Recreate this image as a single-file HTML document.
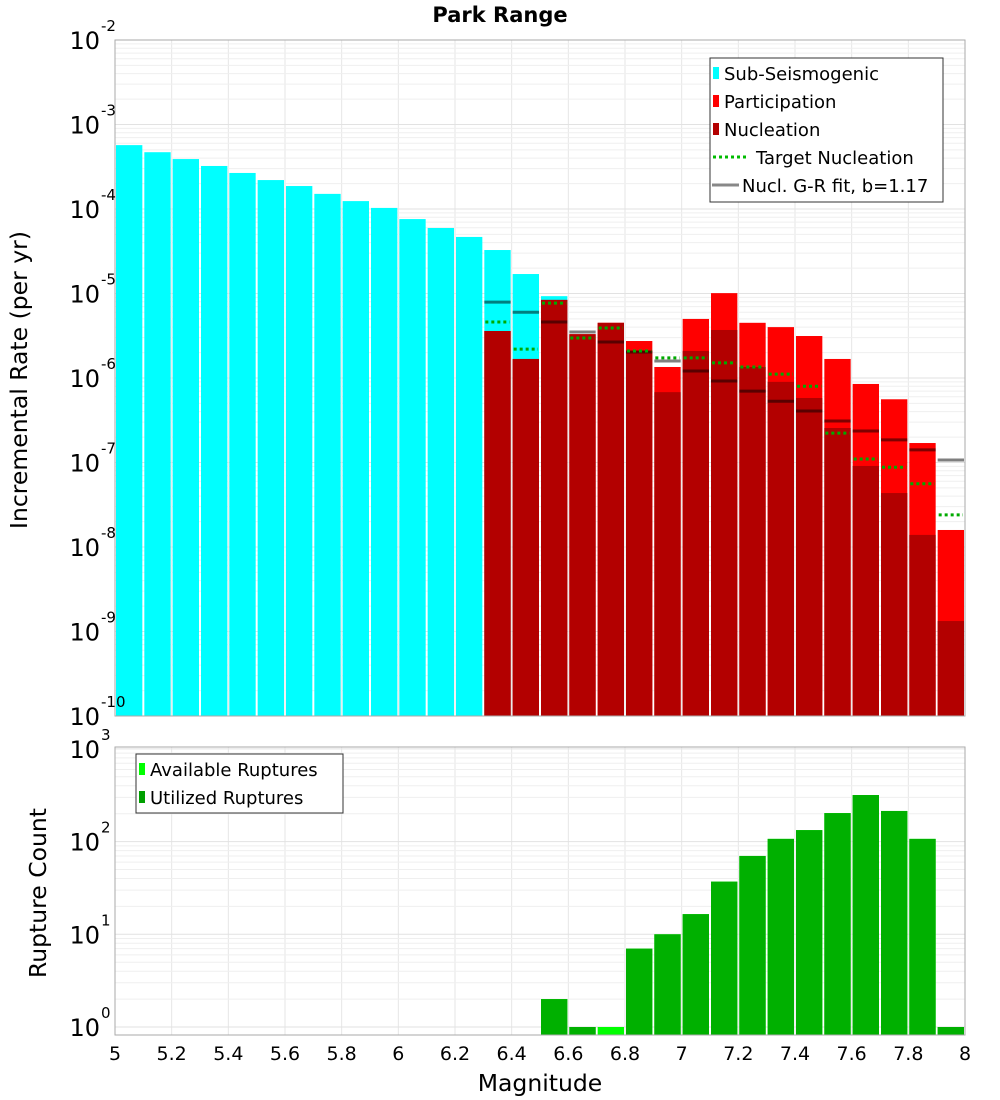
<!DOCTYPE html>
<html><head><meta charset="utf-8">
<style>
body{margin:0;background:#fff;}
svg{display:block;font-family:"DejaVu Sans","Liberation Sans",sans-serif;}
</style></head>
<body>
<svg id="chart" width="1000" height="1100" viewBox="0 0 1000 1100">
<text x="500" y="22" text-anchor="middle" font-size="21" font-weight="bold">Park Range</text>
<g id="topplot"></g>
<g id="botplot"></g>
<text transform="translate(27,380) rotate(-90)" text-anchor="middle" font-size="23.5">Incremental Rate (per yr)</text>
<text transform="translate(46,893) rotate(-90)" text-anchor="middle" font-size="23.5">Rupture Count</text>
<text x="540" y="1091" text-anchor="middle" font-size="23.5">Magnitude</text>
</svg>
<script>
const mags=[5.05,5.15,5.25,5.35,5.45,5.55,5.65,5.75,5.85,5.95,6.05,6.15,6.25,6.35,6.45,6.55,6.65,6.75,6.85,6.95,7.05,7.15,7.25,7.35,7.45,7.55,7.65,7.75,7.85,7.95];
const subSeis=[5.7e-4,4.7e-4,3.9e-4,3.23e-4,2.67e-4,2.2e-4,1.87e-4,1.51e-4,1.24e-4,1.03e-4,7.6e-5,5.96e-5,4.67e-5,3.27e-5,1.7e-5,9.3e-6,0,0,0,0,0,0,0,0,0,0,0,0,0,0];
const participation=[0,0,0,0,0,0,0,0,0,0,0,0,0,3.6e-6,1.68e-6,8.4e-6,3.3e-6,4.5e-6,2.74e-6,1.35e-6,5.0e-6,1.01e-5,4.5e-6,4.0e-6,3.14e-6,1.68e-6,8.5e-7,5.6e-7,1.7e-7,1.59e-8];
const nucleation=[0,0,0,0,0,0,0,0,0,0,0,0,0,3.6e-6,1.68e-6,8.4e-6,3.3e-6,4.5e-6,2.1e-6,6.8e-7,2.09e-6,3.7e-6,1.35e-6,9.0e-7,5.8e-7,2.56e-7,9.1e-8,4.35e-8,1.39e-8,1.33e-9];
const targetNucl=[0,0,0,0,0,0,0,0,0,0,0,0,0,4.6e-6,2.2e-6,7.7e-6,2.97e-6,3.9e-6,2.09e-6,1.73e-6,1.73e-6,1.51e-6,1.35e-6,1.11e-6,8.0e-7,2.23e-7,1.1e-7,8.8e-8,5.6e-8,2.4e-8];
const grFit=[0,0,0,0,0,0,0,0,0,0,0,0,0,7.9e-6,6.0e-6,4.6e-6,3.5e-6,2.67e-6,2.03e-6,1.59e-6,1.21e-6,9.2e-7,7.0e-7,5.3e-7,4.07e-7,3.1e-7,2.36e-7,1.85e-7,1.41e-7,1.07e-7];
const available=[0,0,0,0,0,0,0,0,0,0,0,0,0,0,0,2,1,1,7,10,16.5,37,70,107,133,203,318,214,107,1];
const utilized=[0,0,0,0,0,0,0,0,0,0,0,0,0,0,0,2,1,0,7,10,16.5,37,70,107,133,203,318,214,107,1];
const xTicks=[5,5.2,5.4,5.6,5.8,6,6.2,6.4,6.6,6.8,7,7.2,7.4,7.6,7.8,8];
const rateExps=[-10,-9,-8,-7,-6,-5,-4,-3,-2];
const countExps=[0,1,2,3];

const NS="http://www.w3.org/2000/svg";
const L=115,R=965;
const X=m=>L+(m-5)*(R-L)/3;
const TT=40,TB=716;
const YT=v=>TT+(-2-Math.log10(v))*(TB-TT)/8;
const BT=747,BB=1035;
const YB=v=>1027-92.7*Math.log10(v);
function el(p,tag,a){const e=document.createElementNS(NS,tag);for(const k in a)e.setAttribute(k,a[k]);p.appendChild(e);return e;}
const topG=document.getElementById('topplot'),botG=document.getElementById('botplot');

function grid(g,y0,y1,exps,Y){
  el(g,'rect',{x:L,y:y0,width:R-L,height:y1-y0,fill:'#fff'});
  for(const t of xTicks){const l=el(g,'line',{x1:X(t),x2:X(t),y1:y0,y2:y1,stroke:'#e6e6e6','stroke-width':1});
    
    }
  for(let i=0;i<exps.length;i++){for(let k=1;k<10;k++){const y=Y(k*Math.pow(10,exps[i]));if(y<y0-0.5||y>y1+0.5)continue;
    const l=el(g,'line',{x1:L,x2:R,y1:y,y2:y,stroke:k==1?'#e2e2e2':'#efefef','stroke-width':1});
    
    }}
}
function border(g,y0,y1){const r=el(g,'rect',{x:L,y:y0,width:R-L,height:y1-y0,fill:'none',stroke:'#aaa','stroke-width':1});
  
  }
function yLabels(g,exps,Y){for(const e of exps){const y=Y(Math.pow(10,e));
  const t=el(g,'text',{x:100,y:y+9,'text-anchor':'end','font-size':24});t.textContent='10';
  
  
  const s=el(g,'text',{x:101,y:y-9,'font-size':15});s.textContent=String(e);
  
  }}
function bar(g,m,v,Y,yb,fill,name){if(!(v>0))return;const x0=X(m-0.05)+1,x1=X(m+0.05)-1;const y=Math.max(Y(v),0);
  const r=el(g,'rect',{x:x0,y:y,width:x1-x0,height:yb-y,fill:fill});
  
  }

grid(topG,TT,TB,rateExps,YT);
mags.forEach((m,i)=>bar(topG,m,subSeis[i],YT,TB,'#00ffff','sub-seismogenic-bar'));
mags.forEach((m,i)=>bar(topG,m,participation[i],YT,TB,'#ff0000','participation-bar'));
mags.forEach((m,i)=>bar(topG,m,nucleation[i],YT,TB,'#b30000','nucleation-bar'));
mags.forEach((m,i)=>{if(!(grFit[i]>0))return;const y=YT(grFit[i]);
  const l=el(topG,'line',{x1:X(m-0.05)+1,x2:X(m+0.05)-1,y1:y,y2:y,stroke:'rgba(0,0,0,0.5)','stroke-width':3});
  
  });
mags.forEach((m,i)=>{if(!(targetNucl[i]>0))return;const y=YT(targetNucl[i]);
  const l=el(topG,'line',{x1:X(m-0.05)+2,x2:X(m+0.05)-2,y1:y,y2:y,stroke:'#00aa00','stroke-width':3,'stroke-dasharray':'3 3'});
  
  });
border(topG,TT,TB);
yLabels(topG,rateExps,YT);

grid(botG,BT,BB,countExps,YB);
mags.forEach((m,i)=>bar(botG,m,available[i],YB,BB,'#00ff00','available-ruptures-bar'));
mags.forEach((m,i)=>bar(botG,m,utilized[i],YB,BB,'#00b000','utilized-ruptures-bar'));
border(botG,BT,BB);
yLabels(botG,countExps,YB);

for(const t of xTicks){const tx=el(botG,'text',{x:X(t),y:1060,'text-anchor':'middle','font-size':19});
  tx.textContent=String(t);
  
  }

function legend(g,x,y,w,h,items){const lg=el(g,'g',{});
  
  
  el(lg,'rect',{x:x,y:y,width:w,height:h,fill:'#fff',stroke:'#333','stroke-width':1});
  items.forEach((it,i)=>{const cy=y+15+i*28;const e=el(lg,'g',{});
    
    
    let tx=x+14;
    if(it.t=='box'){el(e,'rect',{x:x+3,y:cy-6,width:6,height:12,fill:it.c});}
    else if(it.t=='dot'){el(e,'line',{x1:x+3,x2:x+39,y1:cy,y2:cy,stroke:it.c,'stroke-width':3,'stroke-dasharray':'3 3'});tx=x+46;}
    else {el(e,'line',{x1:x+2,x2:x+29,y1:cy,y2:cy,stroke:it.c,'stroke-width':3});tx=x+32;}
    const t=el(e,'text',{x:tx,y:cy+7,'font-size':18});t.textContent=it.n;});}
legend(topG,710,58,233,144,[{t:'box',c:'#00ffff',n:'Sub-Seismogenic'},{t:'box',c:'#ff0000',n:'Participation'},{t:'box',c:'#b30000',n:'Nucleation'},{t:'dot',c:'#00bb00',n:'Target Nucleation'},{t:'line',c:'#888',n:'Nucl. G-R fit, b=1.17'}]);
legend(botG,136,754,207,59,[{t:'box',c:'#00ff00',n:'Available Ruptures'},{t:'box',c:'#00a000',n:'Utilized Ruptures'}]);
</script>
</body></html>
